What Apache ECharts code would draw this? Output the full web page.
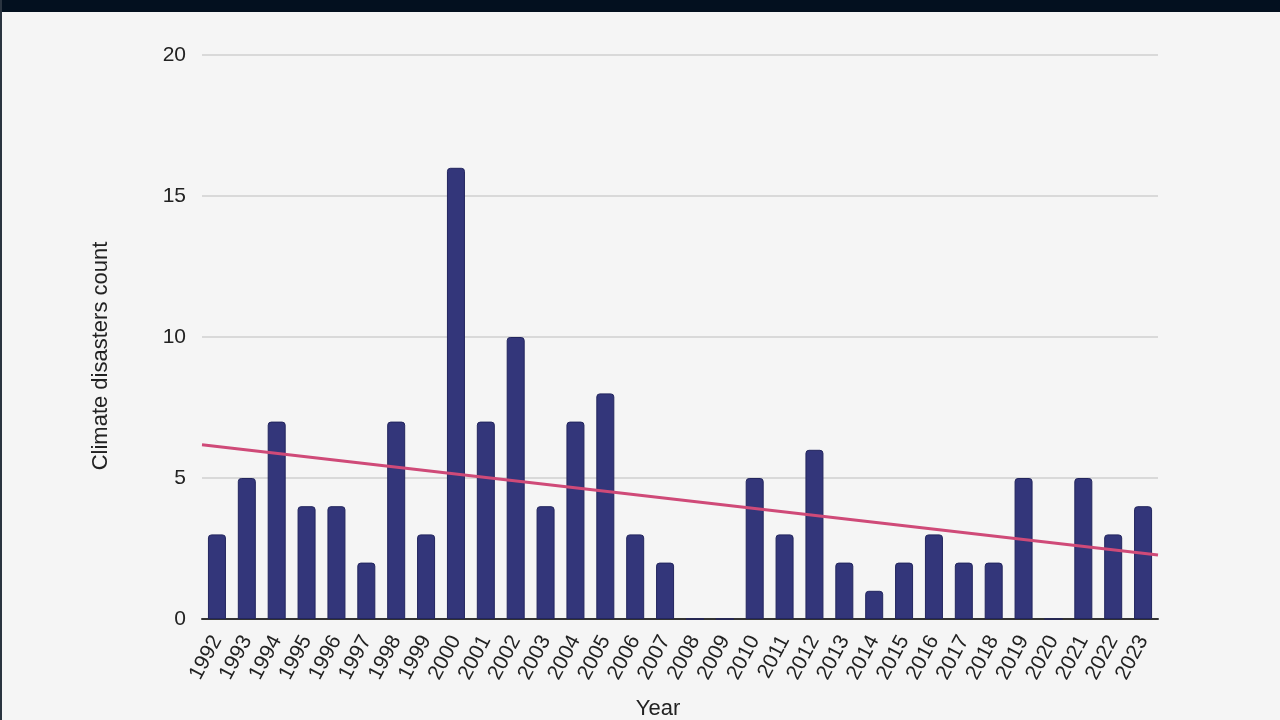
<!DOCTYPE html>
<html>
<head>
<meta charset="utf-8">
<script src="https://cdn.jsdelivr.net/npm/echarts@6/dist/echarts.min.js"></script>
<style>
html,body{margin:0;padding:0;background:#f5f5f5;}
#c{width:1280px;height:720px;}
</style>
</head>
<body>
<div id="c"></div>
<script>
const years = ['1992','1993','1994','1995','1996','1997','1998','1999','2000','2001','2002','2003','2004','2005','2006','2007','2008','2009','2010','2011','2012','2013','2014','2015','2016','2017','2018','2019','2020','2021','2022','2023'];
const disasters = [3,5,7,4,4,2,7,3,16,7,10,4,7,8,3,2,0,0,5,3,6,2,1,2,3,2,2,5,0,5,3,4];
const trendEnds = [6.18, 2.27];
const yTicks = [0,5,10,15,20];

const FONT = '"Liberation Sans", Arial, sans-serif';
const chart = echarts.init(document.getElementById('c'));
chart.setOption({
  backgroundColor: '#f5f5f5',
  animation: false,
  textStyle: {fontFamily: FONT},
  graphic: [
    {type:'rect', shape:{x:0,y:0,width:1280,height:12}, style:{fill:'#03101f'}, z:100},
    {type:'rect', shape:{x:0,y:0,width:2,height:720}, style:{fill:'#2a3440'}, z:100},
    {type:'text', x:101, y:356, rotation:Math.PI/2,
      style:{text:'Climate disasters count', font:'22px ' + FONT, fill:'#222', align:'center', verticalAlign:'middle'}},
    {type:'text', x:658, y:709,
      style:{text:'Year', font:'22px ' + FONT, fill:'#222', align:'center', verticalAlign:'middle'}}
  ],
  grid: {left:202, right:122, top:55, bottom:101},
  xAxis: [
    {
      type:'category', data: years, boundaryGap:true,
      axisLine:{lineStyle:{color:'#333', width:2}},
      axisTick:{show:false},
      axisLabel:{rotate:62, color:'#222', fontSize:21, margin:18, interval:0}
    },
    {type:'value', min:0, max:1, show:false}
  ],
  yAxis: {
    type:'value', min:yTicks[0], max:yTicks[yTicks.length-1], interval:5,
    axisLine:{show:false}, axisTick:{show:false},
    axisLabel:{color:'#222', fontSize:21, margin:16},
    splitLine:{lineStyle:{color:'#cfcfcf', width:1.5}}
  },
  series: [
    {
      type:'bar', data: disasters, barWidth:18,
      itemStyle:{color:'#33367a', borderColor:'#22255e', borderWidth:1, borderRadius:[3,3,0,0]},
      z:2
    },
    {
      type:'line', xAxisIndex:1, data:[[0,trendEnds[0]],[1,trendEnds[1]]],
      symbol:'none', lineStyle:{color:'#cf4a78', width:3}, z:3
    }
  ]
});
</script>
</body>
</html>
